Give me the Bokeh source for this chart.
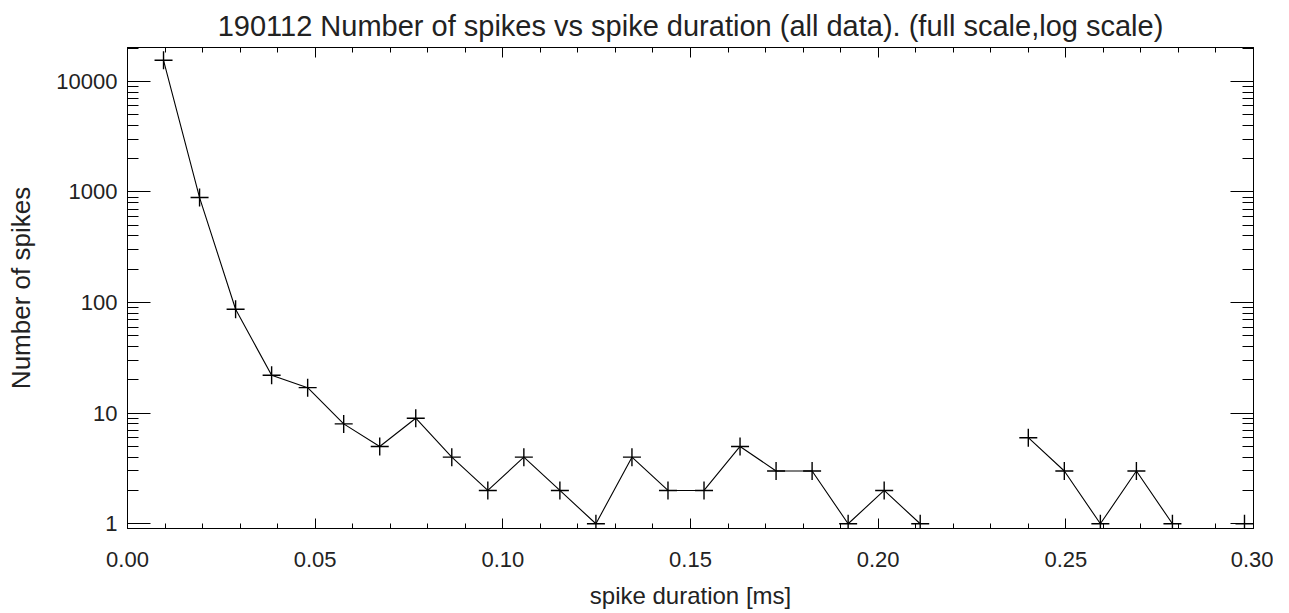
import numpy as np
from bokeh.plotting import figure
from bokeh.models import (LinearAxis, LogAxis, Range1d, FixedTicker,
                          PrintfTickFormatter, ColumnDataSource)
from bokeh.embed import file_html
from bokeh.resources import INLINE

# ---- data ----
duration_ms = [0.0096, 0.0192, 0.0288, 0.0384, 0.0480, 0.0576, 0.0672, 0.0768, 0.0864, 0.0960,
               0.1056, 0.1152, 0.1248, 0.1344, 0.1440, 0.1536, 0.1632, 0.1728, 0.1824, 0.1920,
               0.2016, 0.2112, 0.2208, 0.2304, 0.2400, 0.2496, 0.2592, 0.2688, 0.2784, 0.2880,
               0.2976]
n_spikes = [15500, 890, 87, 22, 17, 8, 5, 9, 4, 2,
            4, 2, 1, 4, 2, 2, 5, 3, 3, 1,
            2, 1, 0, 0, 6, 3, 1, 3, 1, 0,
            1]
x_major_ticks = [0.0, 0.05, 0.10, 0.15, 0.20, 0.25, 0.30]
x_minor_ticks = [0.01, 0.02, 0.03, 0.04, 0.06, 0.07, 0.08, 0.09, 0.11, 0.12, 0.13, 0.14,
                 0.16, 0.17, 0.18, 0.19, 0.21, 0.22, 0.23, 0.24, 0.26, 0.27, 0.28, 0.29]
y_major_ticks = [1, 10, 100, 1000, 10000]
y_minor_ticks = [2, 3, 4, 5, 6, 7, 8, 9,
                 20, 30, 40, 50, 60, 70, 80, 90,
                 200, 300, 400, 500, 600, 700, 800, 900,
                 2000, 3000, 4000, 5000, 6000, 7000, 8000, 9000,
                 20000]

title_text = "190112 Number of spikes vs spike duration (all data). (full scale,log scale)"
x_label = "spike duration [ms]"
y_label = "Number of spikes"

x = np.array(duration_ms, dtype=float)
y = np.array(n_spikes, dtype=float)
y_line = np.where(y > 0, y, np.nan)
mask = y > 0

src_line = ColumnDataSource(dict(x=x, y=y_line))
src_pts = ColumnDataSource(dict(x=x[mask], y=y[mask]))

FONT = "Liberation Sans"
TXT = "#222222"

p = figure(frame_width=1126, frame_height=481,
           x_range=Range1d(0.0, 0.30), y_range=Range1d(0.906, 20240),
           y_axis_type="log", x_axis_location=None, y_axis_location=None,
           output_backend="svg", toolbar_location=None,
           min_border_left=127, min_border_top=47, min_border_bottom=76, min_border_right=20)
p.grid.visible = False
p.outline_line_color = "black"
p.background_fill_color = "white"
p.border_fill_color = "white"

p.title.text = title_text
p.title.align = "center"
p.title.vertical_align = "top"
p.title.text_font = FONT
p.title.text_font_size = "29px"
p.title.text_font_style = "normal"
p.title.text_color = TXT
p.title.text_line_height = 0.7
p.title.standoff = 8

xticker = FixedTicker(ticks=x_major_ticks, minor_ticks=x_minor_ticks)
yticker = FixedTicker(ticks=y_major_ticks, minor_ticks=y_minor_ticks)


def style_x(ax, labels):
    ax.ticker = xticker
    ax.formatter = PrintfTickFormatter(format="%.2f")
    ax.major_tick_in = 10
    ax.major_tick_out = 0
    ax.minor_tick_in = 5
    ax.minor_tick_out = 0
    ax.axis_line_color = "black"
    ax.major_tick_line_color = "black"
    ax.minor_tick_line_color = "black"
    if labels:
        ax.major_label_text_font = FONT
        ax.major_label_text_font_size = "22px"
        ax.major_label_text_color = TXT
        ax.major_label_standoff = 23
    else:
        ax.major_label_text_color = None
        ax.major_label_standoff = 0


def style_y(ax, labels):
    ax.ticker = yticker
    ax.formatter = PrintfTickFormatter(format="%d")
    ax.major_tick_in = 23
    ax.major_tick_out = 0
    ax.minor_tick_in = 11
    ax.minor_tick_out = 0
    ax.axis_line_color = "black"
    ax.major_tick_line_color = "black"
    ax.minor_tick_line_color = "black"
    if labels:
        ax.major_label_text_font = FONT
        ax.major_label_text_font_size = "22px"
        ax.major_label_text_color = TXT
        ax.major_label_standoff = 10
    else:
        ax.major_label_text_color = None
        ax.major_label_standoff = 0


xb = LinearAxis(axis_label=x_label)
style_x(xb, True)
xb.axis_label_text_font = FONT
xb.axis_label_text_font_size = "24px"
xb.axis_label_text_font_style = "normal"
xb.axis_label_text_color = TXT
xb.axis_label_standoff = 12
p.add_layout(xb, "below")

xt = LinearAxis()
style_x(xt, False)
p.add_layout(xt, "above")

yl = LogAxis(axis_label=y_label)
style_y(yl, True)
yl.axis_label_text_font = FONT
yl.axis_label_text_font_size = "26px"
yl.axis_label_text_font_style = "normal"
yl.axis_label_text_color = TXT
yl.axis_label_standoff = 17
p.add_layout(yl, "left")

yr = LogAxis()
style_y(yr, False)
p.add_layout(yr, "right")

p.line("x", "y", source=src_line, line_color="black", line_width=1.1)
p.scatter("x", "y", source=src_pts, marker="cross", size=18, line_color="black", line_width=1.4)

open("out.html", "w").write(file_html(p, INLINE))
